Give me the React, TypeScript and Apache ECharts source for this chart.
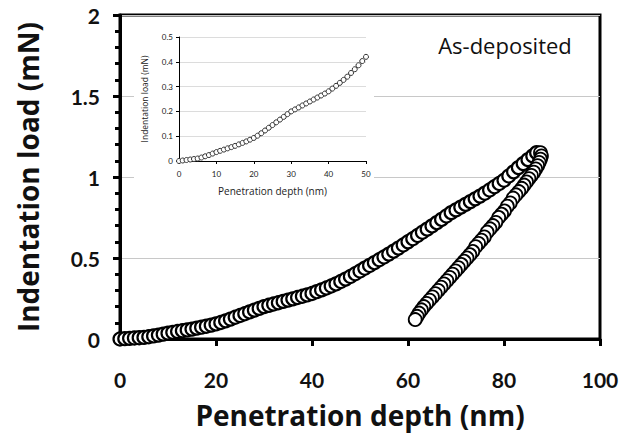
import React, { useEffect, useRef } from "react";
import * as echarts from "echarts";

// Loading branch (depth nm, load mN)
const loadingDepth = [
  0, 1, 2, 3, 4, 5, 6, 7, 8, 9, 10, 11, 12, 13, 14, 15, 16, 17, 18, 19, 20,
  21, 22, 23, 24, 25, 26, 27, 28, 29, 30, 31, 32, 33, 34, 35, 36, 37, 38, 39, 40,
  41, 42, 43, 44, 45, 46, 47, 48, 49, 50, 51, 52, 53, 54, 55, 56, 57, 58, 59, 60,
  61, 62, 63, 64, 65, 66, 67, 68, 69, 70, 71, 72, 73, 74, 75, 76, 77, 78, 79, 80,
  81, 82, 83, 84, 85, 86, 86.8,
];
const loadingLoad = [
  0.0, 0.002, 0.004, 0.006, 0.008, 0.01, 0.014, 0.019, 0.024, 0.03, 0.036,
  0.041, 0.046, 0.051, 0.056, 0.061, 0.067, 0.073, 0.079, 0.086, 0.093,
  0.102, 0.112, 0.123, 0.134, 0.145, 0.156, 0.167, 0.178, 0.189, 0.2,
  0.208, 0.216, 0.224, 0.232, 0.24, 0.248, 0.256, 0.264, 0.272, 0.281,
  0.292, 0.303, 0.315, 0.327, 0.34, 0.355, 0.37, 0.386, 0.403, 0.42,
  0.437, 0.454, 0.471, 0.489, 0.506, 0.524, 0.542, 0.561, 0.58, 0.6,
  0.619, 0.639, 0.659, 0.678, 0.698, 0.718, 0.738, 0.759, 0.78, 0.797,
  0.814, 0.831, 0.848, 0.865, 0.882, 0.9, 0.92, 0.94, 0.96, 0.98,
  1.006, 1.032, 1.058, 1.083, 1.107, 1.13, 1.15,
];

// Unloading branch
const unloadingDepth = [
  87.6, 87.8, 87.6, 87.3, 87.0, 86.6, 86.2, 85.7, 85.2, 84.7, 84.2, 83.7, 83.1,
  82.5, 81.9, 81.3, 80.7, 80.1, 79.5, 78.9, 78.3, 77.7, 77.1, 76.5, 75.9, 75.3,
  74.7, 74.1, 73.5, 72.9, 72.3, 71.7, 71.1, 70.5, 69.9, 69.3, 68.7, 68.1, 67.5,
  66.9, 66.3, 65.7, 65.1, 64.5, 63.9, 63.3, 62.8, 62.3, 61.9, 61.5,
];
const unloadingLoad = [
  1.15, 1.13, 1.11, 1.09, 1.07, 1.05, 1.03, 1.01, 0.99, 0.97, 0.95, 0.93, 0.91,
  0.89, 0.87, 0.84, 0.82, 0.79, 0.77, 0.75, 0.72, 0.7, 0.68, 0.66, 0.63, 0.61,
  0.59, 0.57, 0.54, 0.52, 0.5, 0.48, 0.46, 0.44, 0.42, 0.4, 0.38, 0.36, 0.34,
  0.32, 0.3, 0.28, 0.26, 0.24, 0.22, 0.2, 0.18, 0.16, 0.14, 0.12,
];

const xTitle = "Penetration depth (nm)";
const yTitle = "Indentation load (mN)";
const annotation = "As-deposited";

const FONT = "Lato, 'Open Sans', sans-serif";
const TFONT = "'Open Sans', Lato, sans-serif";

export default function App() {
  const ref = useRef<HTMLDivElement>(null);
  useEffect(() => {
    if (!ref.current) return;
    document.body.style.margin = "0";
    const chart = echarts.init(ref.current, undefined, { renderer: "svg" });
    const loadingPts = loadingDepth.map((d, i) => [d, loadingLoad[i]]);
    const unloadingPts = unloadingDepth.map((d, i) => [d, unloadingLoad[i]]);
    const insetPts = loadingPts.filter((p) => p[0] <= 50);

    chart.setOption({
      animation: false,
      backgroundColor: "#ffffff",
      textStyle: { fontFamily: FONT },
      grid: [
        {
          left: 120,
          top: 15,
          width: 480,
          height: 324,
          show: true,
          borderColor: "#000",
          borderWidth: 3,
          backgroundColor: "transparent",
        },
        { left: 179, top: 37, width: 187, height: 124 },
      ],
      xAxis: [
        {
          gridIndex: 0,
          type: "value",
          min: 0,
          max: 100,
          interval: 20,
          name: xTitle,
          nameLocation: "middle",
          nameGap: 62,
          nameTextStyle: { fontSize: 28, fontWeight: "bold", color: "#111", fontFamily: TFONT },
          axisLine: { show: true, lineStyle: { color: "#000", width: 3 } },
          axisTick: { show: true, length: 7, lineStyle: { color: "#000", width: 3 } },
          axisLabel: { fontSize: 21, fontWeight: "bold", color: "#111", margin: 30, fontFamily: FONT },
          splitLine: { show: false },
        },
        {
          gridIndex: 1,
          type: "value",
          min: 0,
          max: 50,
          interval: 10,
          z: 3,
          name: xTitle,
          nameLocation: "middle",
          nameGap: 25,
          nameTextStyle: { fontSize: 10, color: "#222", fontFamily: TFONT },
          axisLine: { show: true, lineStyle: { color: "#000", width: 1 } },
          axisTick: { show: true, length: 3, lineStyle: { color: "#000", width: 1 } },
          axisLabel: { fontSize: 8, color: "#222", margin: 9, fontFamily: FONT },
          splitLine: { show: false },
        },
      ],
      yAxis: [
        {
          gridIndex: 0,
          type: "value",
          min: 0,
          max: 2,
          interval: 0.5,
          name: yTitle,
          nameLocation: "middle",
          nameGap: 78,
          nameTextStyle: { fontSize: 28, fontWeight: "bold", color: "#111", fontFamily: TFONT },
          axisLine: { show: true, lineStyle: { color: "#000", width: 3 } },
          axisTick: { show: true, length: 7, lineStyle: { color: "#000", width: 3 } },
          minorTick: { show: true, splitNumber: 5, length: 5, lineStyle: { color: "#000", width: 3 } },
          axisLabel: { fontSize: 21, fontWeight: "bold", color: "#111", margin: 20, fontFamily: FONT },
          splitLine: { show: true, lineStyle: { color: "#c8c8c8", width: 1 } },
        },
        {
          gridIndex: 1,
          type: "value",
          min: 0,
          max: 0.5,
          interval: 0.1,
          z: 3,
          name: yTitle,
          nameLocation: "middle",
          nameGap: 30,
          nameTextStyle: { fontSize: 8.5, color: "#222", fontFamily: TFONT },
          axisLine: { show: true, lineStyle: { color: "#000", width: 1 } },
          axisTick: { show: true, length: 3, lineStyle: { color: "#000", width: 1 } },
          axisLabel: { fontSize: 8, color: "#222", margin: 6, fontFamily: FONT },
          splitLine: { show: true, lineStyle: { color: "#dcdcdc", width: 1 } },
        },
      ],
      graphic: [
        {
          type: "rect",
          z: 1,
          shape: { x: 134, y: 24, width: 240, height: 174 },
          style: { fill: "#ffffff" },
        },
        {
          type: "text",
          z: 5,
          x: 505,
          y: 45,
          style: {
            text: annotation,
            fontSize: 22,
            fontFamily: TFONT,
            fill: "#111",
            align: "center",
            verticalAlign: "middle",
          },
        },
      ],
      series: [
        {
          type: "scatter",
          xAxisIndex: 0,
          yAxisIndex: 0,
          data: loadingPts,
          symbol: "circle",
          symbolSize: 13,
          itemStyle: { color: "#ffffff", borderColor: "#000", borderWidth: 2.2, opacity: 1 },
          z: 2,
        },
        {
          type: "scatter",
          xAxisIndex: 0,
          yAxisIndex: 0,
          data: unloadingPts,
          symbol: "circle",
          symbolSize: 13,
          itemStyle: { color: "#ffffff", borderColor: "#000", borderWidth: 1.8, opacity: 1 },
          z: 2,
        },
        {
          type: "scatter",
          xAxisIndex: 1,
          yAxisIndex: 1,
          data: insetPts,
          symbol: "circle",
          symbolSize: 5,
          itemStyle: { color: "#ffffff", borderColor: "#333", borderWidth: 1, opacity: 1 },
          z: 4,
        },
      ],
    });
    return () => chart.dispose();
  }, []);
  return <div ref={ref} style={{ width: 622, height: 437 }} />;
}
